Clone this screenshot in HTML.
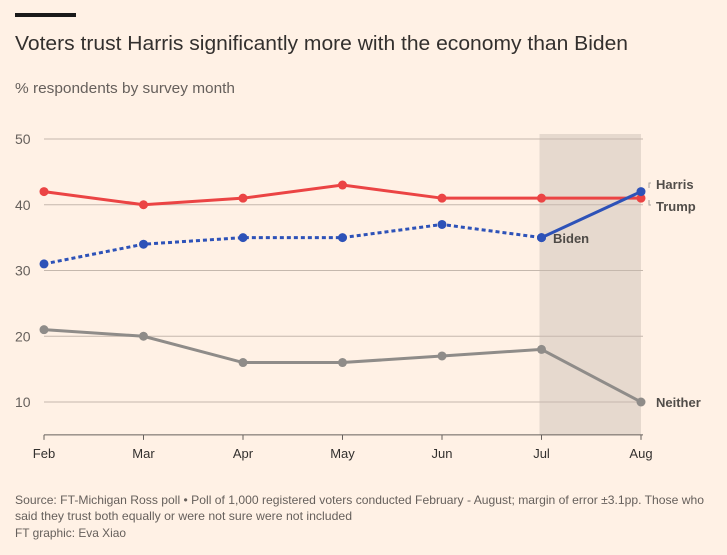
<!DOCTYPE html>
<html><head><meta charset="utf-8"><style>
body{margin:0;background:#fff1e5;font-family:"Liberation Sans",sans-serif;}
svg{display:block}
</style></head><body>
<svg width="727" height="555">
<rect x="15" y="13" width="61" height="4" fill="#1a1a1a"/>
<text x="15" y="50" font-size="20" fill="#33302e" textLength="613" lengthAdjust="spacingAndGlyphs">Voters trust Harris significantly more with the economy than Biden</text>
<text x="15" y="93" font-size="15" fill="#66605c" textLength="220" lengthAdjust="spacingAndGlyphs">% respondents by survey month</text>
<g id="plot"></g>
<text x="15" y="504" font-size="12" fill="#66605c" textLength="689" lengthAdjust="spacingAndGlyphs">Source: FT-Michigan Ross poll • Poll of 1,000 registered voters conducted February - August; margin of error ±3.1pp. Those who</text>
<text x="15" y="520" font-size="12" fill="#66605c" textLength="337" lengthAdjust="spacingAndGlyphs">said they trust both equally or were not sure were not included</text>
<text x="15" y="537" font-size="12" fill="#66605c" textLength="111" lengthAdjust="spacingAndGlyphs">FT graphic: Eva Xiao</text>
</svg>
<script>
const months=["Feb","Mar","Apr","May","Jun","Jul","Aug"];
const trump=[42,40,41,43,41,41,41];
const biden=[31,34,35,35,37,35];
const harris=[35,42];
const neither=[21,20,16,16,17,18,10];
const yTicks=[10,20,30,40,50];
const NS="http://www.w3.org/2000/svg";
const g=document.getElementById("plot");
const x=i=>44+i*(641-44)/6;
const y=v=>467.75-v*6.575;
function mk(t,a,p){const e=document.createElementNS(NS,t);for(const k in a)e.setAttribute(k,a[k]);(p||g).appendChild(e);return e;}
const sh=mk("rect",{x:x(5)-2,y:134,width:x(6)-x(5)+2,height:y(5)-134,fill:"#e6d9ce"});


yTicks.forEach(v=>{
 const l=mk("line",{x1:44,x2:643,y1:y(v),y2:y(v),stroke:"#c5b8ad","stroke-width":1});
 
 
 const t=mk("text",{x:15,y:y(v)+5,"font-size":14,fill:"#66605c"});t.textContent=v;
 
 
});
const ax=mk("line",{x1:44,x2:643,y1:y(5),y2:y(5),stroke:"#66605c","stroke-width":1});


months.forEach((m,i)=>{
 const tk=mk("line",{x1:x(i),x2:x(i),y1:y(5),y2:y(5)+5,stroke:"#66605c"});
 
 
 const t=mk("text",{x:x(i),y:y(5)+23,"font-size":13,fill:"#33302e","text-anchor":"middle"});t.textContent=m;
 
 
});
function series(vals,off,col,name,dash){
 const pts=vals.map((v,i)=>x(i+off)+","+y(v)).join(" ");
 const p=mk("polyline",{points:pts,fill:"none",stroke:col,"stroke-width":3,"stroke-dasharray":dash||"none"});
 
 
 vals.forEach((v,i)=>{const c=mk("circle",{cx:x(i+off),cy:y(v),r:4.5,fill:col});
  
  });
}
series(neither,0,"#8f8c89","neither");
series(trump,0,"#eb4444","trump");
series(biden,0,"#2d52b8","biden","4,3");
series(harris,5,"#2d52b8","harris");
function lab(t,xx,yy,name){const e=mk("text",{x:xx,y:yy,"font-size":13,fill:"#33302e","font-weight":"bold","fill-opacity":0.85});e.textContent=t;
 
 }
const br=mk("path",{d:"M651,183 h-2 v5 M651,205 h-2 v-5",fill:"none",stroke:"#a9a39e","stroke-width":1});


lab("Harris",656,189,"harris-label");
lab("Trump",656,211,"trump-label");
lab("Biden",553,243,"biden-label");
lab("Neither",656,407,"neither-label");
</script>
</body></html>
